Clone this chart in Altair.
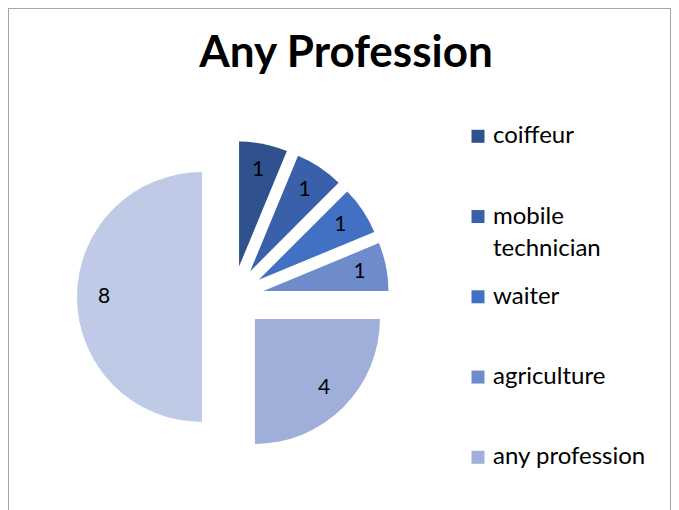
import altair as alt
import pandas as pd

title_text = "Any Profession"
names = ["coiffeur", "mobile technician", "waiter", "agriculture", "any profession", "other"]
values = [1, 1, 1, 1, 4, 8]
colors = ["#2F528F", "#3A60A9", "#4270C2", "#6E8BCB", "#9FAFD9", "#BFCAE6"]
legend_names = ["coiffeur", "mobile technician", "waiter", "agriculture", "any profession"]
legend_labels = ["coiffeur", "mobile\ntechnician", "waiter", "agriculture", "any profession"]

FONT = "Lato"
EXPLODE = 31
LABEL_R = 98
W, H = 663, 520
BORDER = "#A6A6A6"

pie_df = pd.DataFrame({"name": names, "value": values, "order": list(range(len(names)))})
leg_df = pd.DataFrame({"name": legend_names, "label": legend_labels, "idx": list(range(len(legend_names)))})

color = alt.Color("name:N", scale=alt.Scale(domain=names, range=colors), legend=None)

xs = alt.Scale(domain=[-300, 300], range=[225 - 300, 225 + 300])
ys = alt.Scale(domain=[-300, 300], range=[289 - 300, 289 + 300])

base = (
    alt.Chart(pie_df)
    .transform_window(cum="sum(value)", sort=[alt.SortField("order")], frame=[None, 0])
    .transform_joinaggregate(total="sum(value)")
    .transform_calculate(
        a0="2*PI*(datum.cum - datum.value)/datum.total",
        a1="2*PI*datum.cum/datum.total",
    )
    .transform_calculate(mid="(datum.a0 + datum.a1)/2")
    .transform_calculate(
        ox=f"{EXPLODE}*sin(datum.mid)",
        oy=f"-{EXPLODE}*cos(datum.mid)",
        lx=f"{EXPLODE + LABEL_R}*sin(datum.mid)",
        ly=f"-{EXPLODE + LABEL_R}*cos(datum.mid)",
    )
)

pie = base.mark_arc(radius=125).encode(
    theta=alt.Theta("a0:Q", scale=None, stack=None),
    theta2="a1:Q",
    x=alt.X("ox:Q", scale=xs, axis=None),
    y=alt.Y("oy:Q", scale=ys, axis=None),
    color=color,
)

labels = base.mark_text(font=FONT, fontSize=21, color="#000000", align="center", baseline="middle").encode(
    x=alt.X("lx:Q", scale=xs, axis=None),
    y=alt.Y("ly:Q", scale=ys, axis=None),
    text="value:Q",
)

leg_y = alt.Y("idx:Q", scale=alt.Scale(domain=[0, 4], range=[128.3, 449.3]), axis=None)
leg_sym = alt.Chart(leg_df).mark_square(size=169, opacity=1).encode(
    x=alt.value(470), y=leg_y, color=color
)
leg_txt = alt.Chart(leg_df).mark_text(
    font=FONT, fontSize=24, align="left", baseline="middle", lineBreak="\n", lineHeight=32, color="#000000"
).encode(x=alt.value(485), y=leg_y, text="label:N")

title = alt.Chart(pd.DataFrame({"t": [title_text]})).mark_text(
    font=FONT, fontSize=44, fontWeight="bold", align="center", baseline="alphabetic", color="#000000"
).encode(x=alt.value(338), y=alt.value(59), text="t:N")

border_top = alt.Chart().mark_rule(color=BORDER, strokeWidth=1).encode(
    x=alt.value(0), x2=alt.value(W), y=alt.value(0.5)
)
border_left = alt.Chart().mark_rule(color=BORDER, strokeWidth=1).encode(
    x=alt.value(0.5), y=alt.value(0), y2=alt.value(H + 40)
)
border_right = alt.Chart().mark_rule(color=BORDER, strokeWidth=1).encode(
    x=alt.value(W - 0.5), y=alt.value(0), y2=alt.value(H + 40)
)

chart = (
    alt.layer(border_top, border_left, border_right, pie, labels, leg_sym, leg_txt, title,
              data=pd.DataFrame({"d": [0]}))
    .resolve_scale(x="independent", y="independent")
    .properties(width=W, height=H, autosize=alt.AutoSizeParams(type="none"), padding=0)
    .configure_view(stroke=None)
)

chart.save("out.html", embed_options={"renderer": "svg", "actions": False})
